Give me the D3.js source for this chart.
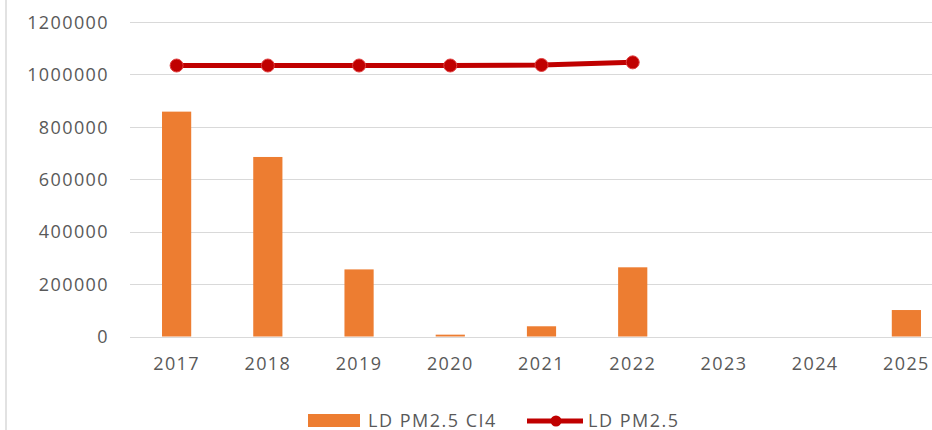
<!DOCTYPE html>
<html>
<head>
<meta charset="utf-8">
<script src="https://cdn.jsdelivr.net/npm/d3@7"></script>
<style>
  html, body { margin: 0; padding: 0; background: #fff; }
  svg { display: block; }
  text { font-family: "Open Sans", "Noto Sans", sans-serif; fill: #595959; }
</style>
</head>
<body>
<svg id="chart" width="932" height="430"></svg>
<script>
const years = ["2017", "2018", "2019", "2020", "2021", "2022", "2023", "2024", "2025"];
const barValues = [858000, 685000, 256000, 7000, 39000, 264000, null, null, 101000];
const lineValues = [1034000, 1034000, 1034000, 1034000, 1036000, 1046000, null, null, null];
const yTicks = [0, 200000, 400000, 600000, 800000, 1000000, 1200000];
const seriesNames = ["LD PM2.5 CI4", "LD PM2.5"];
const barColor = "#ED7D31";
const lineColor = "#C00000";

const svg = d3.select("#chart");
const W = 932, H = 430;

const x = d3.scaleBand().domain(years).range([131, 952]).paddingInner(0.68).paddingOuter(0.34);
const y = d3.scaleLinear().domain([0, 1200000]).range([336.5, 22]);

// left border
svg.append("line").attr("x1", 6).attr("x2", 6).attr("y1", 0).attr("y2", H)
  .attr("stroke", "#d9d9d9").attr("stroke-width", 1.5);

// gridlines
svg.append("g").selectAll("line").data(yTicks).join("line")
  .attr("x1", 130).attr("x2", W)
  .attr("y1", d => Math.round(y(d)) + 0.5).attr("y2", d => Math.round(y(d)) + 0.5)
  .attr("stroke", "#d9d9d9").attr("stroke-width", 1);

// y axis labels
const yAxis = d3.axisLeft(y).tickValues(yTicks).tickSize(0).tickPadding(0).tickFormat(d3.format("d"));
const gy = svg.append("g").attr("transform", "translate(109,0)").call(yAxis);
gy.select(".domain").remove();
gy.selectAll("text").attr("font-size", 18).attr("letter-spacing", 1.4)
  .attr("fill", "#555555").attr("font-family", "Open Sans").attr("dy", "0.35em");

// x axis labels
const xAxis = d3.axisBottom(x).tickSize(0).tickPadding(0);
const gx = svg.append("g").attr("transform", "translate(0,357)").call(xAxis);
gx.select(".domain").remove();
gx.selectAll("text").attr("font-size", 18).attr("letter-spacing", 1.4)
  .attr("fill", "#555555").attr("font-family", "Open Sans").attr("dy", "0.71em");

// bars
svg.append("g").selectAll("rect")
  .data(years.map((yr, i) => ({ yr, v: barValues[i] })).filter(d => d.v != null))
  .join("rect")
  .attr("x", d => x(d.yr))
  .attr("width", x.bandwidth())
  .attr("y", d => y(d.v))
  .attr("height", d => y(0) - y(d.v))
  .attr("fill", barColor);

// line
const pts = years.map((yr, i) => ({ yr, v: lineValues[i] })).filter(d => d.v != null);
const line = d3.line().x(d => x(d.yr) + x.bandwidth() / 2).y(d => y(d.v));
svg.append("path").datum(pts).attr("d", line)
  .attr("fill", "none").attr("stroke", lineColor).attr("stroke-width", 5)
  .attr("stroke-linejoin", "round");
svg.append("g").selectAll("circle").data(pts).join("circle")
  .attr("cx", d => x(d.yr) + x.bandwidth() / 2)
  .attr("cy", d => y(d.v))
  .attr("r", 6.5)
  .attr("fill", lineColor)
  .attr("stroke", "#e04040").attr("stroke-width", 1);

// legend
const lg = svg.append("g");
lg.append("rect").attr("x", 308).attr("y", 414).attr("width", 52).attr("height", 13).attr("fill", barColor);
lg.append("text").attr("x", 368).attr("y", 426.5).attr("font-size", 18).attr("letter-spacing", 1.5)
  .attr("fill", "#555555").text(seriesNames[0]);
lg.append("line").attr("x1", 527).attr("x2", 583).attr("y1", 421).attr("y2", 421)
  .attr("stroke", lineColor).attr("stroke-width", 5);
lg.append("circle").attr("cx", 556).attr("cy", 421).attr("r", 5.5).attr("fill", lineColor);
lg.append("text").attr("x", 588).attr("y", 426.5).attr("font-size", 18).attr("letter-spacing", 1.5)
  .attr("fill", "#555555").text(seriesNames[1]);
</script>
</body>
</html>
